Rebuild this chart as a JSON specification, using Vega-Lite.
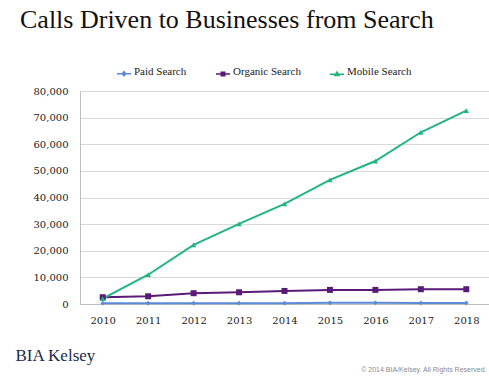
{
  "$schema": "https://vega.github.io/schema/vega-lite/v6.json",
  "autosize": "none",
  "width": 409,
  "height": 213,
  "padding": {"left": 80, "top": 91, "right": 0, "bottom": 74},
  "background": "white",
  "title": {
    "text": "Calls Driven to Businesses from Search",
    "font": "Liberation Serif",
    "fontSize": 26,
    "fontWeight": "normal",
    "color": "#111111",
    "anchor": "start",
    "dx": -60,
    "offset": 31,
    "frame": "group"
  },
  "data": {
    "values": [
      {"year": "2010", "series": "Paid Search", "calls": 300},
      {"year": "2011", "series": "Paid Search", "calls": 300},
      {"year": "2012", "series": "Paid Search", "calls": 300},
      {"year": "2013", "series": "Paid Search", "calls": 300},
      {"year": "2014", "series": "Paid Search", "calls": 300},
      {"year": "2015", "series": "Paid Search", "calls": 450},
      {"year": "2016", "series": "Paid Search", "calls": 450},
      {"year": "2017", "series": "Paid Search", "calls": 400},
      {"year": "2018", "series": "Paid Search", "calls": 400},
      {"year": "2010", "series": "Organic Search", "calls": 2550},
      {"year": "2011", "series": "Organic Search", "calls": 2900},
      {"year": "2012", "series": "Organic Search", "calls": 4050},
      {"year": "2013", "series": "Organic Search", "calls": 4400},
      {"year": "2014", "series": "Organic Search", "calls": 4900},
      {"year": "2015", "series": "Organic Search", "calls": 5300},
      {"year": "2016", "series": "Organic Search", "calls": 5300},
      {"year": "2017", "series": "Organic Search", "calls": 5550},
      {"year": "2018", "series": "Organic Search", "calls": 5550},
      {"year": "2010", "series": "Mobile Search", "calls": 2000},
      {"year": "2011", "series": "Mobile Search", "calls": 11000},
      {"year": "2012", "series": "Mobile Search", "calls": 22200},
      {"year": "2013", "series": "Mobile Search", "calls": 30100},
      {"year": "2014", "series": "Mobile Search", "calls": 37600},
      {"year": "2015", "series": "Mobile Search", "calls": 46600},
      {"year": "2016", "series": "Mobile Search", "calls": 53700},
      {"year": "2017", "series": "Mobile Search", "calls": 64500},
      {"year": "2018", "series": "Mobile Search", "calls": 72600}
    ]
  },
  "encoding": {
    "x": {
      "field": "year",
      "type": "ordinal",
      "scale": {"type": "point", "padding": 0.5},
      "axis": {
        "labelAngle": 0,
        "labelFont": "DejaVu Serif",
        "labelFontSize": 10,
        "labelColor": "#222222",
        "labelPadding": 11,
        "ticks": false,
        "domainColor": "#bfbfbf",
        "grid": false,
        "title": "© 2014 BIA/Kelsey. All Rights Reserved.",
        "titleFont": "Liberation Sans",
        "titleFontSize": 7,
        "titleFontWeight": "normal",
        "titleColor": "#8a8a8a",
        "titleAlign": "right",
        "titleBaseline": "middle",
        "titleX": 406,
        "titleY": 65
      }
    },
    "y": {
      "field": "calls",
      "type": "quantitative",
      "scale": {"domain": [0, 80000]},
      "axis": {
        "values": [0, 10000, 20000, 30000, 40000, 50000, 60000, 70000, 80000],
        "format": ",.0f",
        "labelFont": "DejaVu Serif",
        "labelFontSize": 10,
        "labelColor": "#222222",
        "labelPadding": 12,
        "ticks": false,
        "domainColor": "#bfbfbf",
        "gridColor": "#d9d9d9",
        "title": "BIA Kelsey",
        "titleFont": "Liberation Serif",
        "titleFontSize": 17,
        "titleFontWeight": "normal",
        "titleColor": "#1d2a4a",
        "titleAngle": 0,
        "titleAlign": "left",
        "titleBaseline": "middle",
        "titleX": -65,
        "titleY": 264
      }
    },
    "color": {
      "field": "series",
      "type": "nominal",
      "scale": {
        "domain": ["Paid Search", "Organic Search", "Mobile Search"],
        "range": ["#5b8ad6", "#5a1a78", "#22b482"]
      },
      "legend": {
        "title": null,
        "orient": "none",
        "direction": "horizontal",
        "legendX": 36,
        "legendY": -27,
        "labelFont": "Liberation Serif",
        "labelFontSize": 11,
        "labelColor": "#222222",
        "labelOffset": 2,
        "symbolSize": 196,
        "columnPadding": 26,
        "encode": {
          "symbols": {
            "update": {
              "shape": {"signal": "datum.value === 'Paid Search' ? 'M-1,0.25H1M0,-0.05L0.25,0.25L0,0.55L-0.25,0.25Z' : datum.value === 'Organic Search' ? 'M-1,0.25H1M-0.25,0V0.5H0.25V0Z' : 'M-1,0.25H1M0,-0.05L0.3,0.45H-0.3Z'"},
              "stroke": {"signal": "scale('color', datum.value)"},
              "fill": {"signal": "scale('color', datum.value)"},
              "strokeWidth": {"value": 1.5},
              "opacity": {"value": 1}
            }
          }
        }
      }
    }
  },
  "layer": [
    {
      "mark": {"type": "line", "strokeWidth": 2}
    },
    {
      "transform": [{"filter": "datum.series === 'Paid Search'"}],
      "mark": {"type": "point", "shape": "diamond", "filled": true, "opacity": 1, "size": 22}
    },
    {
      "transform": [{"filter": "datum.series === 'Organic Search'"}],
      "mark": {"type": "point", "shape": "square", "filled": true, "opacity": 1, "size": 36}
    },
    {
      "transform": [{"filter": "datum.series === 'Mobile Search'"}],
      "mark": {"type": "point", "shape": "triangle-up", "filled": true, "opacity": 1, "size": 30}
    }
  ]
}
